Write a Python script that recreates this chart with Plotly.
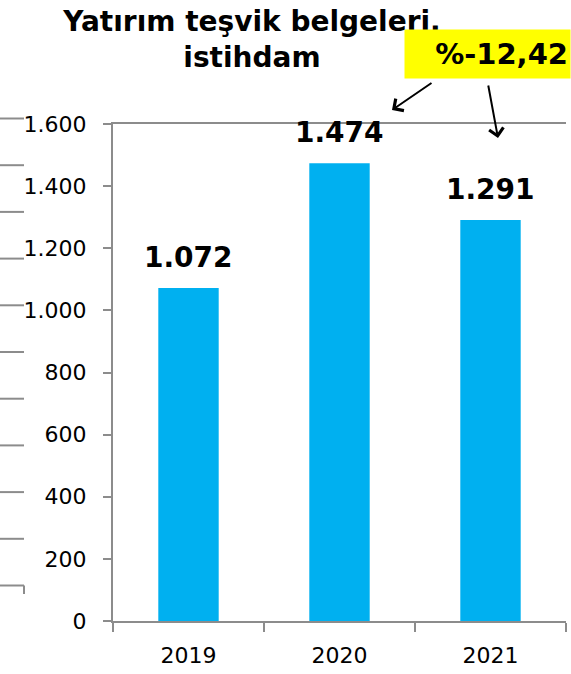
import plotly.graph_objects as go

years = ["2019", "2020", "2021"]
employment = [1072, 1474, 1291]
change_label = "%-12,42"
title_text = "Yatırım teşvik belgeleri,<br>istihdam"

W, H = 571, 674
M = dict(l=113, r=5, t=124, b=53)
PW = W - M["l"] - M["r"]
PH = H - M["t"] - M["b"]


def px_x(x):
    return (x - M["l"]) / PW


def px_y(y):
    return (H - M["b"] - y) / PH


AXIS = "#8c8c8c"
FONT = "DejaVu Sans"

fig = go.Figure(
    go.Bar(
        x=years,
        y=employment,
        marker_color="#00b0f0",
        marker_line_width=0,
        hoverinfo="skip",
    )
)

# value labels above bars (category index positions)
for i, v in enumerate(employment):
    fig.add_annotation(
        x=i, y=v,
        text=f"<b>{v:,}</b>".replace(",", "."),
        showarrow=False,
        yanchor="bottom",
        yshift=12,
        font=dict(family=FONT, size=28, color="black"),
    )

# yellow change box
fig.add_annotation(
    xref="paper", yref="paper",
    x=px_x(571), y=px_y(54),
    xanchor="right", yanchor="middle",
    text=f"<b>{change_label}</b>",
    showarrow=False,
    align="right",
    width=161, height=44,
    borderpad=2,
    bgcolor="#ffff00",
    font=dict(family=FONT, size=29, color="black"),
)

# arrows from the box
for head, tail in [((392, 110), (433, 82)), ((498, 138), (488, 84))]:
    fig.add_annotation(
        xref="paper", yref="paper",
        x=px_x(head[0]), y=px_y(head[1]),
        ax=tail[0] - head[0], ay=tail[1] - head[1],
        text="",
        showarrow=True,
        arrowhead=4,
        arrowsize=1.4,
        arrowwidth=2,
        arrowcolor="black",
    )

# leftover axis strokes of the neighbouring chart at the left edge
for k in range(11):
    yy = 118.5 + 46.7 * k
    fig.add_shape(
        type="line", xref="paper", yref="paper",
        x0=px_x(0), x1=px_x(24), y0=px_y(yy), y1=px_y(yy),
        line=dict(color=AXIS, width=2),
    )
fig.add_shape(
    type="line", xref="paper", yref="paper",
    x0=px_x(24), x1=px_x(24), y0=px_y(585.5), y1=px_y(594),
    line=dict(color=AXIS, width=2),
)

fig.update_layout(
    width=W, height=H, autosize=False,
    margin=M,
    paper_bgcolor="white",
    plot_bgcolor="white",
    separators=",.",
    showlegend=False,
    bargap=0.6,
    font=dict(family=FONT, size=22, color="black"),
    title=dict(
        text=f"<b>{title_text}</b>",
        xref="container", yref="container",
        x=252 / W, xanchor="center",
        y=1 - 31 / H, yanchor="top",
        font=dict(family=FONT, size=28, color="black"),
    ),
    xaxis=dict(
        type="category",
        range=[-0.5, 2.5],
        automargin=False,
        showline=True, linecolor=AXIS, linewidth=2,
        mirror=True,
        ticks="outside", tickson="boundaries", ticklen=9,
        tickcolor=AXIS, tickwidth=2,
        ticklabelstandoff=14,
        showgrid=False,
        tickfont=dict(family=FONT, size=22, color="black"),
    ),
    yaxis=dict(
        automargin=False,
        range=[0, 1600], dtick=200,
        showline=True, linecolor=AXIS, linewidth=2,
        ticks="outside", ticklen=8, tickcolor=AXIS, tickwidth=2,
        ticklabelstandoff=12,
        showgrid=False, zeroline=False,
        tickformat=",d",
        tickfont=dict(family=FONT, size=22, color="black"),
    ),
)

# the page's default body margin would shift the chart
fig.write_html(
    "out.html",
    config={"displayModeBar": False},
    post_script="document.body.style.margin = '0';",
)
